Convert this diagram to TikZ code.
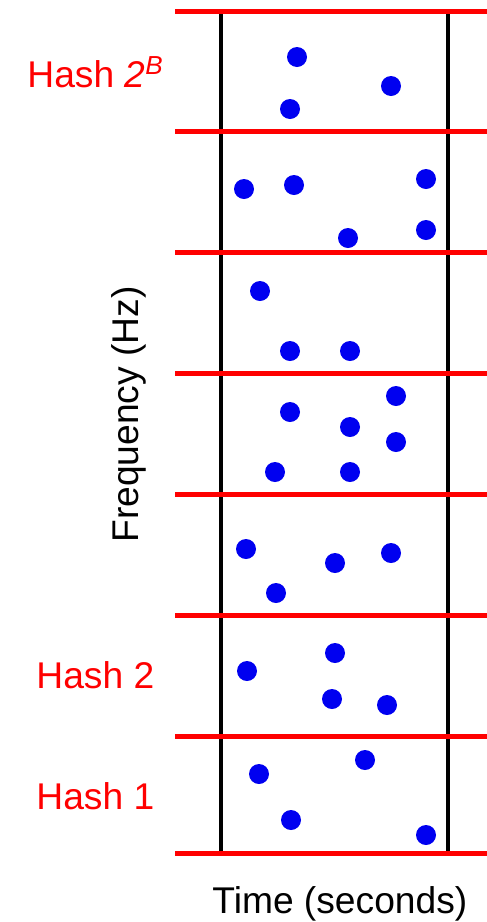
\documentclass[tikz,border=0pt]{standalone}
\usepackage{fontspec}
\setmainfont{Liberation Sans}
\definecolor{hashred}{RGB}{255,0,0}
\definecolor{dotblue}{RGB}{0,0,240}
\tikzset{
  band/.style={draw=hashred, line width=2.5pt},
  axis/.style={draw=black, line width=2pt},
  peak/.style={circle, fill=dotblue, inner sep=0pt, minimum size=10pt},
  lab/.style={inner sep=0pt, font=\fontsize{18.6}{20}\selectfont},
}
\begin{document}
\begin{tikzpicture}[x=0.5pt, y=-0.5pt]
  \useasboundingbox (0,0) rectangle (487,922);
  \def\xl{221};
  \def\xr{448};
  % time axis borders
  \draw[axis] (\xl,11) -- (\xl,853);
  \draw[axis] (\xr,11) -- (\xr,853);
  % hash bands
  \foreach \j in {11, 131.5, 252.5, 373.5, 494.5, 615.5, 736.5, 853} {
    \draw[band] (175,\j) -- (487,\j);
  }
  % spectrogram peaks
  \foreach \px/\py [count=\k] in {297/57, 391/86, 290/109,
      244/189, 294/185, 426/179, 348/238, 426/230,
      260/291, 290/351, 350/351,
      396/396, 290/412, 350/427, 396/442, 275/472, 350/472,
      246/549, 335/563, 391/553, 276/593,
      335/653, 247/671, 332/699, 387/705,
      365/760, 259/774, 291/820, 426/835} {
    \node[peak] (p\k) at (\px,\py) {};
  }
  % labels
  \node[lab, text=hashred, anchor=base west] (hashB) at (27,87) {Hash \textit{2}\textsuperscript{\textit{B}}};
  \node[lab, text=hashred, anchor=base west] (hashtwo) at (36,688) {Hash 2};
  \node[lab, text=hashred, anchor=base west] (hashone) at (36,809) {Hash 1};
  \node[lab, anchor=base west] (timelab) at (212,913) {Time (seconds)};
  \node[lab, anchor=base west, rotate=90] (freqlab) at (138,543) {Frequency (Hz)};
\end{tikzpicture}
\end{document}
